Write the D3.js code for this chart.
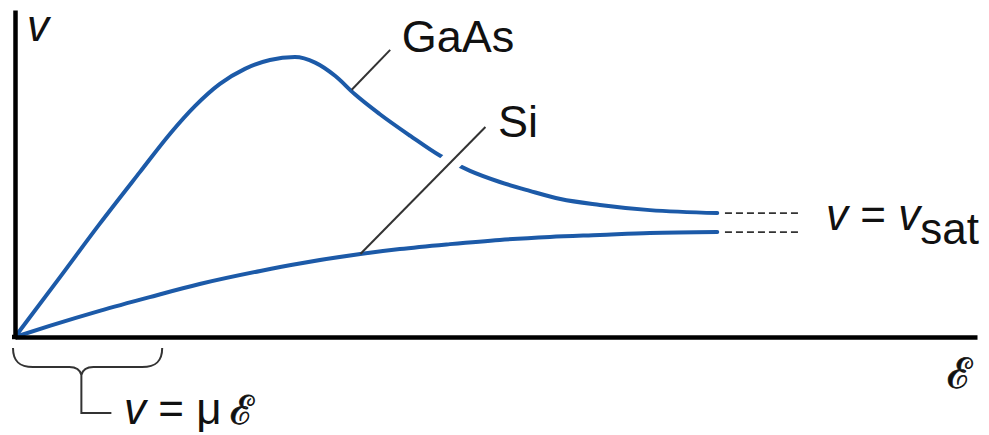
<!DOCTYPE html>
<html>
<head>
<meta charset="utf-8">
<script src="https://cdn.jsdelivr.net/npm/d3@7/dist/d3.min.js"></script>
<style>
  html, body { margin: 0; padding: 0; background: #fff; }
  svg { display: block; }
</style>
</head>
<body>
<svg id="chart" width="989" height="435"></svg>
<script>
// ---- data (arbitrary units: field E 0..100, velocity v 0..100) ----
const gaasE = [0, 4.7, 8.8, 13.0, 16.1, 18.7, 21.3, 23.9, 26.5, 29.1, 31.2, 33.3, 35.3, 37.9, 41.1, 44.2, 47.3, 50.4, 53.5, 56.7, 60.8, 66.0, 73.0];
const gaasV = [0, 18.4, 34.6, 50.5, 62.1, 70.6, 77.4, 82.0, 84.7, 85.6, 83.9, 79.8, 74.3, 68.2, 61.5, 55.4, 50.8, 47.4, 44.7, 42.2, 40.4, 38.8, 37.9];
const siE = [0, 3.6, 8.8, 14.0, 19.2, 25.5, 29.6, 35.9, 40.0, 45.2, 50.4, 55.6, 60.8, 66.0, 73.0];
const siV = [0, 3.4, 8.0, 12.2, 16.2, 20.2, 22.5, 25.4, 26.9, 28.4, 29.7, 30.6, 31.2, 31.8, 32.1];
const seriesNames = ["GaAs", "Si"];
const satExtent = [73.8, 81.8];      // dashed continuation to v_sat
const mobilityRange = [0, 15.3];     // low-field range marked by brace

const svg = d3.select("#chart");
const x = d3.scaleLinear().domain([0, 100]).range([15, 977]);
const y = d3.scaleLinear().domain([0, 100]).range([337, 10]);

const blue = "#1c5aa8";
const ink = "#111";
const lead = "#333";

const line = d3.line().x(d => x(d[0])).y(d => y(d[1])).curve(d3.curveMonotoneX);
const gaas = gaasE.map((e, i) => [e, gaasV[i]]);
const si = siE.map((e, i) => [e, siV[i]]);

// curves
svg.append("path").datum(gaas).attr("d", line)
  .attr("fill", "none").attr("stroke", blue).attr("stroke-width", 4).attr("stroke-linecap", "round");
svg.append("path").datum(si).attr("d", line)
  .attr("fill", "none").attr("stroke", blue).attr("stroke-width", 4).attr("stroke-linecap", "round");

// dashed saturation continuations
[gaasV[gaasV.length - 1], siV[siV.length - 1]].forEach(v => {
  svg.append("line")
    .attr("x1", x(satExtent[0])).attr("x2", x(satExtent[1]))
    .attr("y1", y(v)).attr("y2", y(v))
    .attr("stroke", lead).attr("stroke-width", 1.8).attr("stroke-dasharray", "7,4");
});

// axes
const xAxis = d3.axisBottom(x).tickValues([]).tickSizeOuter(0);
const yAxis = d3.axisLeft(y).tickValues([]).tickSizeOuter(0);
svg.append("g").attr("transform", `translate(0,${y(0)})`).call(xAxis)
  .select(".domain").attr("stroke", "#000").attr("stroke-width", 4.5);
svg.append("g").attr("transform", `translate(${x(0)},0)`).call(yAxis)
  .select(".domain").attr("stroke", "#000").attr("stroke-width", 4.5);
svg.append("line").attr("x1", x(0) - 3).attr("x2", x(0) + 2).attr("y1", y(0)).attr("y2", y(0))
  .attr("stroke", "#000").attr("stroke-width", 4.5);

// leader lines
// GaAs
svg.append("line")
  .attr("x1", x(35.0)).attr("y1", y(75.6))
  .attr("x2", x(39.0)).attr("y2", y(87.8))
  .attr("stroke", lead).attr("stroke-width", 2);
// Si (passes through a white gap in the GaAs curve)
const siLeadFrom = [35.9, 25.4], siLeadTo = [48.9, 64.2];
const gapA = [44.3, 50.6], gapB = [46.4, 56.9];
svg.append("line")
  .attr("x1", x(gapA[0])).attr("y1", y(gapA[1]))
  .attr("x2", x(gapB[0])).attr("y2", y(gapB[1]))
  .attr("stroke", "#fff").attr("stroke-width", 20);
svg.append("line")
  .attr("x1", x(siLeadFrom[0])).attr("y1", y(siLeadFrom[1]))
  .attr("x2", x(siLeadTo[0])).attr("y2", y(siLeadTo[1]))
  .attr("stroke", lead).attr("stroke-width", 2);

const sans = "'Liberation Sans', Arial, Helvetica, sans-serif";
const serif = "'DejaVu Serif', 'Liberation Serif', serif";

// series labels
svg.append("text").attr("x", x(40.2)).attr("y", y(87.2))
  .attr("font-family", sans).attr("font-size", 45).attr("fill", ink).text(seriesNames[0]);
svg.append("text").attr("x", x(50.2)).attr("y", y(61.2))
  .attr("font-family", sans).attr("font-size", 45).attr("fill", ink).text(seriesNames[1]);

// axis labels
svg.append("text").attr("x", 27).attr("y", 41)
  .attr("font-family", sans).attr("font-style", "italic").attr("font-size", 44).attr("fill", ink).text("v");
svg.append("text").attr("x", 947).attr("y", 388)
  .attr("font-family", serif).attr("font-size", 42).attr("fill", ink)
  .attr("stroke", ink).attr("stroke-width", 0.7).text("ℰ");

// v = v_sat
const tsat = svg.append("text").attr("x", 826).attr("y", 230)
  .attr("font-family", sans).attr("font-size", 44).attr("fill", ink);
tsat.append("tspan").attr("font-style", "italic").text("v");
tsat.append("tspan").text(" = ");
tsat.append("tspan").attr("font-style", "italic").text("v");
tsat.append("tspan").attr("dy", 14).text("sat");

// brace under low-field region
const bx0 = x(mobilityRange[0]) - 2, bx1 = x(mobilityRange[1]);
const bxc = x(6.9);
const yT = 348, yM = 367, yC = 375, yL = 413;
const p = d3.path();
p.moveTo(bx0, yT);
p.bezierCurveTo(bx0, yM - 6, bx0 + 6, yM, bx0 + 20, yM);
p.lineTo(bxc - 12, yM);
p.quadraticCurveTo(bxc - 2, yM, bxc, yC);
p.quadraticCurveTo(bxc + 2, yM, bxc + 12, yM);
p.lineTo(bx1 - 20, yM);
p.bezierCurveTo(bx1 - 6, yM, bx1, yM - 6, bx1, yT);
p.moveTo(bxc, yC);
p.lineTo(bxc, yL);
p.lineTo(bxc + 30, yL);
svg.append("path").attr("d", p.toString()).attr("fill", "none")
  .attr("stroke", lead).attr("stroke-width", 2);

const tmu = svg.append("text").attr("x", 124).attr("y", 424)
  .attr("font-family", sans).attr("font-size", 44).attr("fill", ink);
tmu.append("tspan").attr("font-style", "italic").text("v");
tmu.append("tspan").text(" = μ");
tmu.append("tspan").attr("dx", 8).attr("font-family", serif).attr("font-size", 40)
  .attr("stroke", ink).attr("stroke-width", 0.7).text("ℰ");
</script>
</body>
</html>
